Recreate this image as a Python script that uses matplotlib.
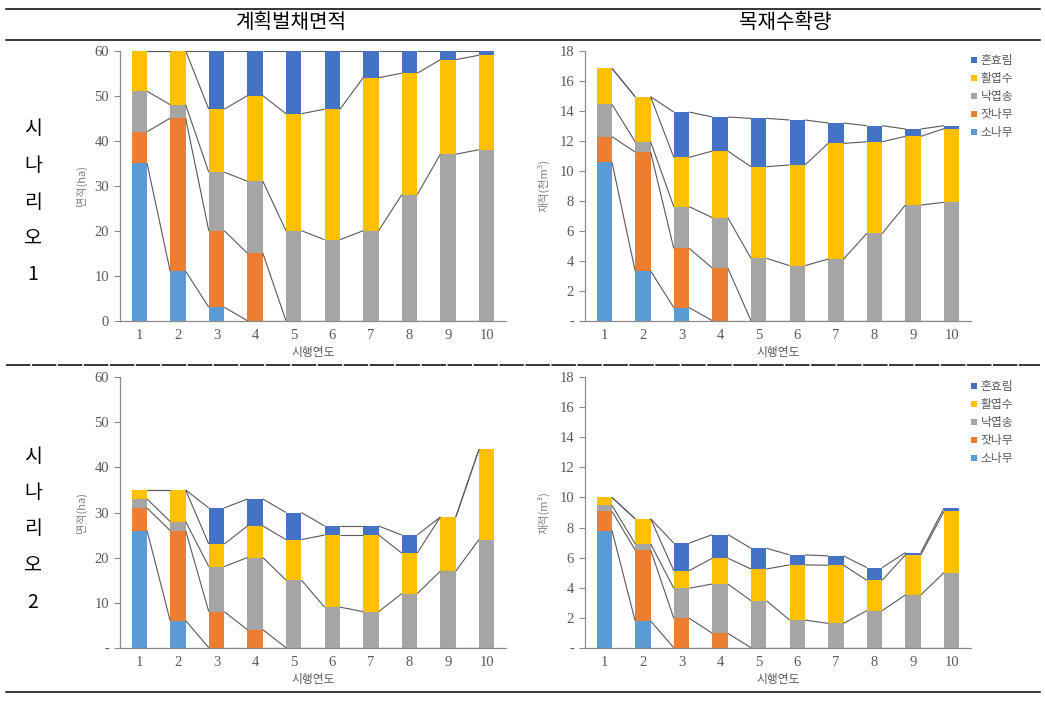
import matplotlib
matplotlib.use("Agg")
import matplotlib.pyplot as plt
from matplotlib.lines import Line2D
import numpy as np

plt.rcParams['font.family'] = ['Noto Sans CJK KR', 'DejaVu Sans']

years = [1, 2, 3, 4, 5, 6, 7, 8, 9, 10]
species = ['소나무', '잣나무', '낙엽송', '활엽수', '혼효림']
colors = ['#5B9BD5', '#ED7D31', '#A5A5A5', '#FFC000', '#4472C4']

# 시나리오 1 - 계획벌채면적 (ha), order: 소나무, 잣나무, 낙엽송, 활엽수, 혼효림
area1 = [
    [35, 11, 3, 0, 0, 0, 0, 0, 0, 0],
    [7, 34, 17, 15, 0, 0, 0, 0, 0, 0],
    [9, 3, 13, 16, 20, 18, 20, 28, 37, 38],
    [9, 12, 14, 19, 26, 29, 34, 27, 21, 21],
    [0, 0, 13, 10, 14, 13, 6, 5, 2, 1],
]
# 시나리오 1 - 목재수확량 (천m3)
vol1 = [
    [10.56, 3.31, 0.87, 0, 0, 0, 0, 0, 0, 0],
    [1.71, 7.93, 3.95, 3.51, 0, 0, 0, 0, 0, 0],
    [2.15, 0.69, 2.78, 3.36, 4.16, 3.67, 4.11, 5.82, 7.71, 7.89],
    [2.40, 3.00, 3.29, 4.44, 6.11, 6.71, 7.71, 6.11, 4.58, 4.91],
    [0, 0, 3.02, 2.27, 3.22, 3.00, 1.36, 1.07, 0.49, 0.20],
]
# 시나리오 2 - 계획벌채면적 (ha)
area2 = [
    [26, 6, 0, 0, 0, 0, 0, 0, 0, 0],
    [5, 20, 8, 4, 0, 0, 0, 0, 0, 0],
    [2, 2, 10, 16, 15, 9, 8, 12, 17, 24],
    [2, 7, 5, 7, 9, 16, 17, 9, 12, 20],
    [0, 0, 8, 6, 6, 2, 2, 4, 0, 0],
]
# 시나리오 2 - 목재수확량 (m3)
vol2 = [
    [7.80, 1.78, 0, 0, 0, 0, 0, 0, 0, 0],
    [1.27, 4.73, 1.96, 0.96, 0, 0, 0, 0, 0, 0],
    [0.40, 0.40, 2.00, 3.28, 3.13, 1.84, 1.62, 2.47, 3.51, 5.00],
    [0.53, 1.67, 1.17, 1.72, 2.11, 3.67, 3.87, 2.02, 2.67, 4.07],
    [0, 0, 1.83, 1.57, 1.38, 0.67, 0.62, 0.84, 0.15, 0.22],
]

W, H = 1045, 701
fig = plt.figure(figsize=(W / 100, H / 100), dpi=100)

num_font = ['Liberation Serif', 'DejaVu Serif']
gray = '#595959'
spine_c = '#8C8C8C'
bw = 0.4


def px_axes(left, top, right, bottom):
    return fig.add_axes([left / W, 1 - bottom / H, (right - left) / W, (bottom - top) / H])


def draw_panel(ax, data, ymax, step, ylabel, zero_dash):
    x = np.array(years)
    data = np.array(data, dtype=float)
    cum = np.zeros(len(years))
    tops = []
    for vals, c, name in zip(data, colors, species):
        ax.bar(x, vals, bw, bottom=cum, color=c, label=name, zorder=2)
        cum = cum + vals
        tops.append(cum.copy())
    # Excel style series lines
    for t in tops:
        for i in range(len(years) - 1):
            ax.plot([x[i] + bw / 2, x[i + 1] - bw / 2], [t[i], t[i + 1]],
                    color='#595959', lw=0.8, zorder=3, solid_capstyle='butt')
    ax.set_xlim(0.5, 10.5)
    ax.set_ylim(0, ymax)
    ticks = np.arange(0, ymax + 0.01, step)
    ax.set_yticks(ticks)
    labs = ['%d' % t for t in ticks]
    if zero_dash:
        labs[0] = '-'
    ax.set_yticklabels(labs)
    ax.set_xticks(years)
    for s in ['top', 'right']:
        ax.spines[s].set_visible(False)
    for s in ['left', 'bottom']:
        ax.spines[s].set_color(spine_c)
        ax.spines[s].set_linewidth(0.9)
    ax.tick_params(axis='y', direction='out', length=4, width=0.8, color=spine_c,
                   labelcolor=gray, labelsize=10.5, pad=4)
    ax.tick_params(axis='x', length=0, labelcolor=gray, labelsize=10.5, pad=6)
    for lab in ax.get_xticklabels() + ax.get_yticklabels():
        lab.set_family(num_font)
    ax.set_xlabel('시행연도', fontsize=8.5, color=gray, labelpad=3)
    ax.set_ylabel(ylabel, fontsize=8, color='#7F7F7F', labelpad=2)
    ax.patch.set_alpha(0)


ax1 = px_axes(120, 50.7, 506, 320.7)
draw_panel(ax1, area1, 60, 10, '면적(ha)', False)
ax1.yaxis.set_label_coords(-0.085, 0.5)

ax2 = px_axes(585, 50.7, 971, 320.7)
draw_panel(ax2, vol1, 18, 2, '재적(천m³)', True)
ax2.yaxis.set_label_coords(-0.093, 0.5)

ax3 = px_axes(120, 377.3, 506, 647.7)
draw_panel(ax3, area2, 60, 10, '면적(ha)', True)
ax3.yaxis.set_label_coords(-0.085, 0.5)

ax4 = px_axes(585, 377.3, 971, 647.7)
draw_panel(ax4, vol2, 18, 2, '재적(m³)', True)
ax4.yaxis.set_label_coords(-0.093, 0.5)

# legends on the right panels, 혼효림 on top
for ax, ytop in [(ax2, 54), (ax4, 380)]:
    handles = [Line2D([], [], marker='s', ls='none', markersize=4, color=c,
                      markeredgewidth=0) for c in colors][::-1]
    leg = ax.legend(handles, species[::-1], loc='upper left',
                    bbox_to_anchor=(970 / W, 1 - ytop / H), bbox_transform=fig.transFigure,
                    frameon=False, fontsize=8.5, handlelength=0.6, handletextpad=0.3,
                    labelspacing=0.42, borderaxespad=0, borderpad=0)
    for t in leg.get_texts():
        t.set_color(gray)

# table frame
def hline(y, **kw):
    fig.add_artist(Line2D([6 / W, 1040 / W], [1 - y / H, 1 - y / H],
                          transform=fig.transFigure, color='black', **kw))

hline(9, lw=1.1)
hline(40, lw=1.1)
hline(365, lw=1.1, ls=(0, (16, 1.0)))
hline(692, lw=1.1)

fig.text(291 / W, 1 - 23 / H, '계획벌채면적', ha='center', va='center', fontsize=14.5)
fig.text(785 / W, 1 - 23 / H, '목재수확량', ha='center', va='center', fontsize=14.5)

for chars, y0 in [(['시', '나', '리', '오', '1'], 129), (['시', '나', '리', '오', '2'], 456)]:
    for k, ch in enumerate(chars):
        fig.text(33 / W, 1 - (y0 + k * 36.5) / H, ch, ha='center', va='center',
                 fontsize=14, family=['Noto Sans CJK KR', 'DejaVu Sans'])

fig.savefig('out.png', dpi=100)
